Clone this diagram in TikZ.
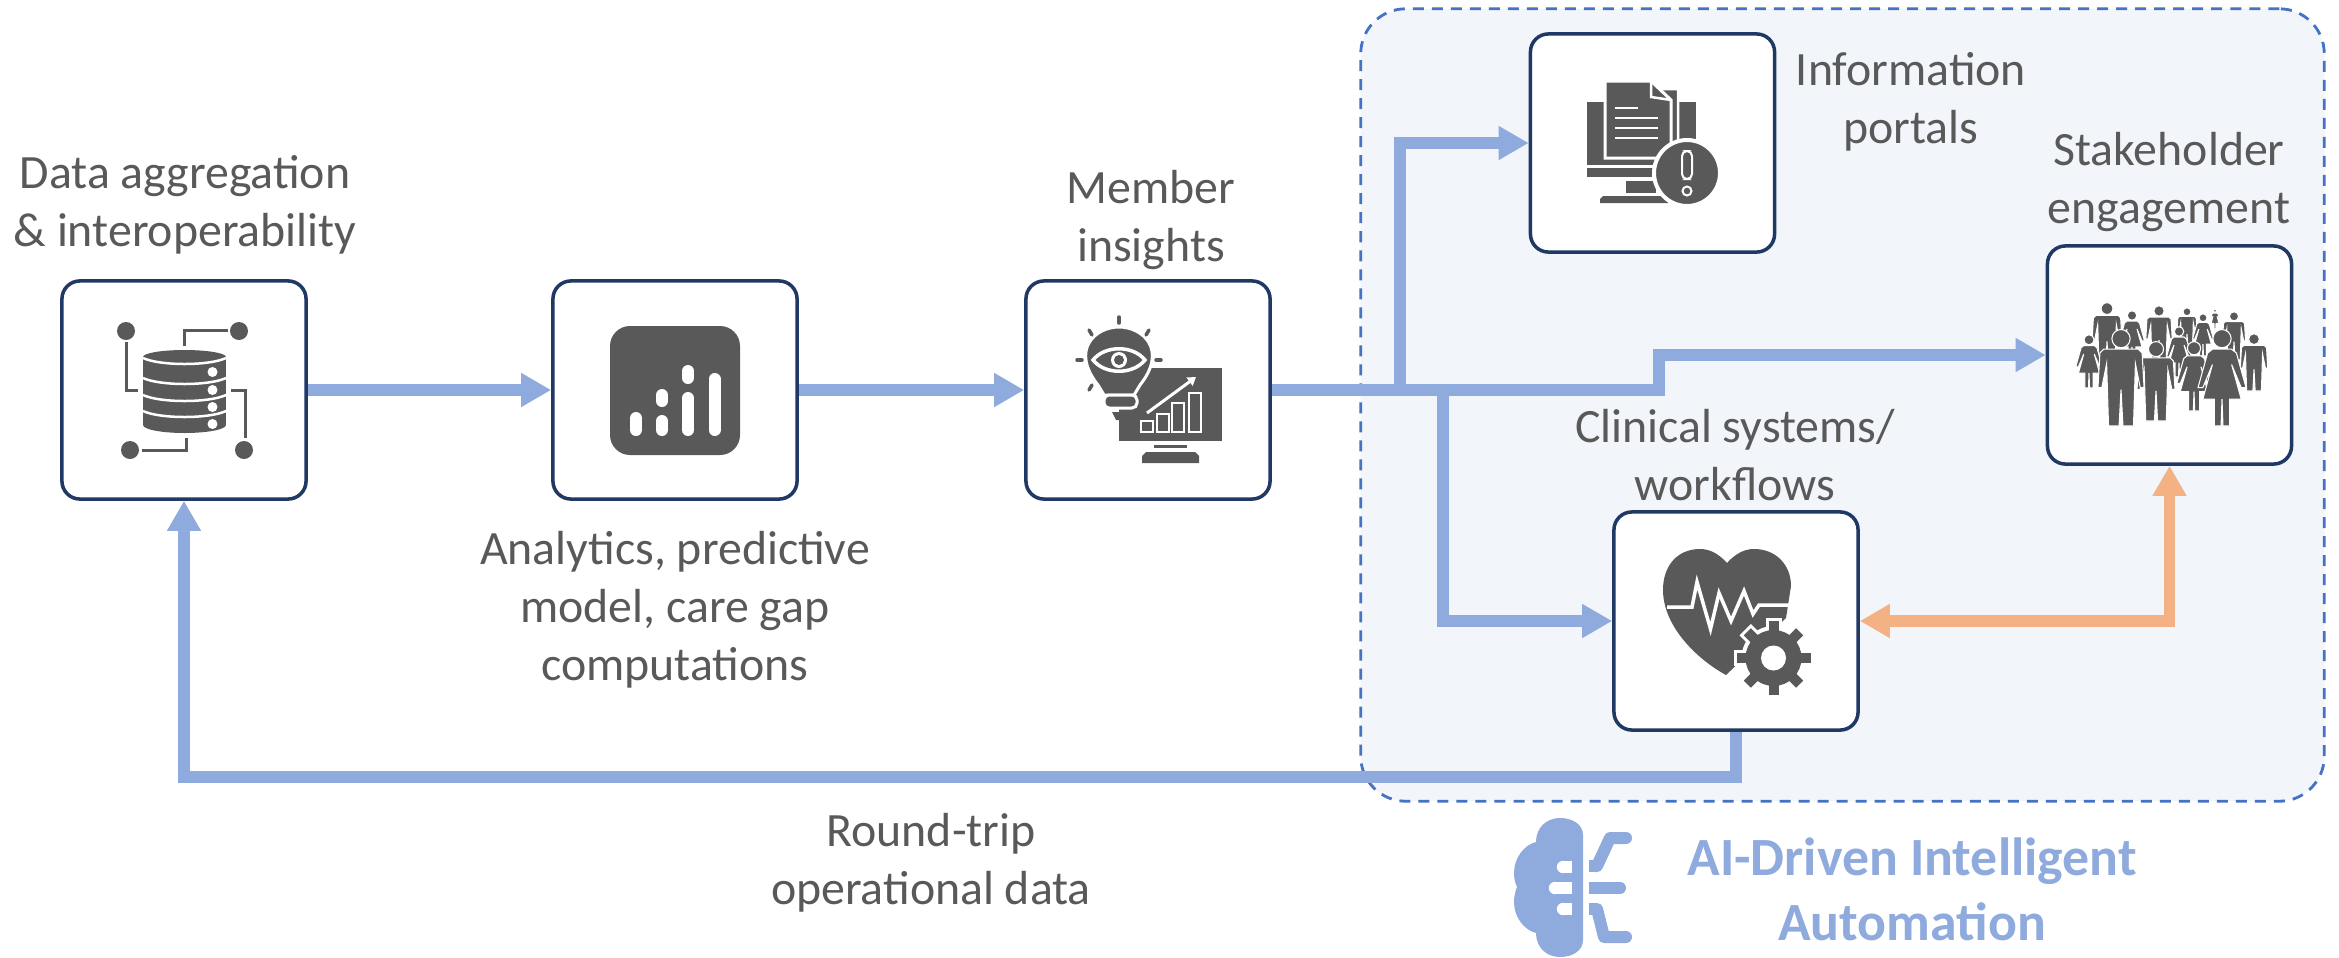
\documentclass[tikz,border=0pt]{standalone}
\usepackage{fontspec}
\setmainfont{Carlito}
\usetikzlibrary{arrows.meta}
\definecolor{ink}{HTML}{595959}
\definecolor{flowblue}{HTML}{8FAADC}
\definecolor{floworange}{HTML}{F4B183}
\definecolor{navy}{HTML}{1F3864}
\definecolor{dashblue}{HTML}{4472C4}
\definecolor{panel}{HTML}{F2F5FA}
\newcommand{\manicon}[3]{\begin{scope}[shift={(#1,#2)},scale=#3]
\fill[ink,draw=white,line width=.3pt] (0,9) circle (9.5);
\fill[ink,draw=white,line width=.3pt] (-18,20) -- (18,20) -- (22,24) -- (24,60) -- (20,60) -- (15,35) -- (13,100) -- (2,100) -- (0,62) -- (-2,100) -- (-13,100) -- (-15,35) -- (-20,60) -- (-24,60) -- (-22,24) -- cycle;
\end{scope}}
\newcommand{\womanicon}[3]{\begin{scope}[shift={(#1,#2)},scale=#3]
\fill[ink,draw=white,line width=.3pt] (0,9) circle (9.5);
\fill[ink,draw=white,line width=.3pt] (-10,20) -- (10,20) -- (15,24) -- (25,60) -- (20,60) -- (10,36) -- (20,72) -- (8,72) -- (8,100) -- (1,100) -- (0,72) -- (-1,100) -- (-8,100) -- (-8,72) -- (-20,72) -- (-10,36) -- (-20,60) -- (-25,60) -- (-15,24) -- cycle;
\end{scope}}
\begin{document}
\begin{tikzpicture}[x=0.01cm,y=-0.01cm]
\tikzstyle{box}=[draw=navy, fill=white, line width=1pt, rounded corners=.18cm,
                 minimum width=2.44cm, minimum height=2.18cm, inner sep=0pt]
\tikzstyle{caption}=[text=ink, align=center, inner sep=0pt,
                     font=\fontsize{13.6}{16.5}\selectfont]
\tikzstyle{flow}=[draw=flowblue, line width=.115cm, -{Triangle[length=.3cm,width=.32cm]}]
\tikzstyle{twoway}=[draw=floworange, line width=.115cm, {Triangle[length=.3cm,width=.32cm]}-{Triangle[length=.3cm,width=.32cm]}]
\tikzstyle{wire}=[draw=ink, line width=.03cm]
\tikzstyle{cut}=[draw=white, line width=.025cm]
\path[use as bounding box] (0,0) rectangle (2339,957);

\node (Auto) at (1842.5,405) [draw=dashblue, fill=panel, line width=.8pt, rounded corners=.45cm,
    dash pattern=on .11cm off .08cm, minimum width=9.63cm, minimum height=7.92cm] {};

\node[box] (Data) at (184,390) {};
\node[box] (Stats) at (675,390) {};
\node[box] (Member) at (1148,390) {};
\node[box] (Portal) at (1652.5,143) {};
\node[box] (Crowd) at (2169.5,355) {};
\node[box] (Clinic) at (1736,621) {};

\node[caption] (DataL) at (185,205) {Data aggregation\\\& interoperability};
\node[caption] (StatsL) at (675,610) {Analytics, predictive\\model, care gap\\computations};
\node[caption] (MemberL) at (1151,220) {Member\\insights};
\node[caption] (PortalL) at (1911,102) {Information\\portals};
\node[caption] (CrowdL) at (2169,182) {Stakeholder\\engagement};
\node[caption] (ClinicL) at (1735,455) {Clinical systems/\\workflows};
\node[caption] (TripL) at (931,863) {Round-trip\\operational data};
\node[caption, text=flowblue, font=\fontsize{15.3}{18.5}\selectfont\bfseries] (AutoL) at (1912,889) {AI-Driven Intelligent\\Automation};

\coordinate (PortalUp) at (1400,390);
\coordinate (ClinicDown) at (1443,390);
\coordinate (CrowdStep) at (1659,390);
\coordinate (TripA) at (1736,777);
\coordinate (TripB) at (184,777);
\draw[flow] (Data) -- (Stats);
\draw[flow] (Stats) -- (Member);
\draw[flow] (Member.east) -- (PortalUp) |- (Portal.west);
\draw[flow] (Member.east) -- (CrowdStep) |- (Crowd.west);
\draw[flow] (ClinicDown) |- (Clinic.west);
\draw[flow] (Clinic.south) -- (TripA) -- (TripB) -- (Data.south);
\draw[twoway] (Clinic.east) -| (Crowd.south);

\foreach \i/\j in {126/331,239/331,130/450,244/450}{\fill[ink] (\i,\j) circle (9);}
\draw[wire] (126,342) -- (126,390) -- (138,390);
\draw[wire] (184,346) -- (184,330) -- (228,330);
\draw[wire] (231,390) -- (245,390) -- (245,438);
\draw[wire] (186,438) -- (186,450) -- (142,450);
\fill[ink] (143,357) rectangle (226,425);
\fill[ink] (184.5,357) ellipse (41.5 and 7);
\fill[ink] (184.5,425) ellipse (41.5 and 8);
\foreach \j in {358,378,395,411}{\draw[cut] (143,\j) .. controls (160,\j+8) and (209,\j+8) .. (226,\j);}
\foreach \j in {372,390,407,424}{\fill[white] (212.5,\j) circle (5);}

\fill[ink, rounded corners=.2cm] (610,326) rectangle (740,455);
\foreach \i/\a/\b in {636/418/430,662/395/401,662/421/430,688/371/378,688/398/430,714.5/379/430}{
  \draw[white, line width=.12cm, line cap=round] (\i,\a) -- (\i,\b);}

\fill[ink] (1119,368) rectangle (1222,441);
\foreach \i/\j in {1141/421,1157/414,1172/403,1189/393}{\draw[cut] (\i,\j) rectangle ++(12,432-\j);}
\draw[white, line width=.03cm, -{Triangle[length=.08cm,width=.1cm]}] (1147,413) -- (1196,377);
\fill[ink] (1154,445) rectangle (1187,448);
\fill[ink] (1142,463) -- (1142,456) -- (1146,452) -- (1195,452) -- (1199,456) -- (1199,463) -- cycle;
\fill[ink, draw=white, line width=.03cm] (1104,395) -- (1098,385) .. controls (1070,350) and (1095,327) .. (1119,327) .. controls (1143,327) and (1168,350) .. (1140,385) -- (1134,395) -- cycle;
\fill[ink, draw=white, line width=.03cm, rounded corners=.05cm] (1104,395) rectangle (1137,408);
\fill[ink] (1112,412) -- (1127,412) -- (1123,420) -- (1116,420) -- cycle;
\filldraw[fill=ink, draw=white, line width=.035cm] (1093,360) .. controls (1105,345) and (1133,345) .. (1145,360) .. controls (1133,375) and (1105,375) .. (1093,360) -- cycle;
\fill[white] (1119,360) circle (8);
\fill[ink] (1119,360) circle (5);
\foreach \i/\j/\k/\l in {1119/317/1119/323,1089/330/1092/335,1149/330/1146/335,1077/360/1082/360,1156/360/1161/360,1089/390/1092/385}{
  \draw[ink, line width=.035cm, line cap=round] (\i,\j) -- (\k,\l);}

\fill[ink] (1587,102) rectangle (1696,165);
\fill[ink] (1587,168) rectangle (1696,177);
\fill[ink] (1626,181) rectangle (1656,193);
\fill[ink] (1600,203) -- (1600,199) -- (1603,196) -- (1668,196) -- (1668,203) -- cycle;
\filldraw[fill=ink, draw=white, line width=.025cm] (1660,89) -- (1678,89) -- (1678,150) -- (1665,150) -- cycle;
\filldraw[fill=ink, draw=white, line width=.03cm] (1605,81) -- (1651,81) -- (1671,100) -- (1671,158) -- (1605,158) -- cycle;
\draw[cut] (1651,81) -- (1651,97) -- (1671,100);
\foreach \j/\k in {108/1638,118/1658,128/1658,138/1658}{\draw[white, line width=.025cm] (1615,\j) -- (\k,\j);}
\filldraw[fill=ink, draw=white, line width=.04cm] (1687,173) circle (33);
\draw[white, line width=.02cm, rounded corners=.05cm] (1682,151) rectangle (1692,179);
\draw[white, line width=.02cm] (1687,191) circle (4.5);

\foreach \i/\j/\s in {2107/303/.62,2159/306/.55,2187/308/.42,2234/312/.48}{\manicon{\i}{\j}{\s}}
\foreach \i/\j/\s in {2132/311/.5,2203/314/.42,2215/309/.2,2179/327/.5}{\womanicon{\i}{\j}{\s}}
\womanicon{2089}{335}{.53}
\manicon{2254}{334}{.57}
\womanicon{2194}{342}{.69}
\manicon{2156}{342}{.79}
\manicon{2121}{330}{.96}
\womanicon{2222}{330}{.96}

\fill[ink] (1727,563) .. controls (1718,553) and (1709,549) .. (1700,549) .. controls (1678,549) and (1663,565) .. (1663,590) .. controls (1663,625) and (1695,658) .. (1726,675) -- (1786,618) -- (1791,586) .. controls (1791,565) and (1776,549) .. (1754,549) .. controls (1745,549) and (1736,553) .. (1727,563) -- cycle;
\draw[white, line width=.035cm] (1667,607) -- (1692,607) -- (1697,582) -- (1710.5,629) -- (1719,593) -- (1731,621) -- (1744,591) -- (1753,614) -- (1759,605) -- (1789,605);
\fill[white] (1773.5,658) circle (32);
\foreach \a in {0,45,...,315}{\draw[white, line width=.16cm] (1773.5,658) -- ++(\a:40);}
\foreach \a in {0,45,...,315}{\draw[ink, line width=.1cm] (1773.5,658) -- ++(\a:37);}
\fill[ink] (1773.5,658) circle (28);
\fill[white] (1773.5,658) circle (12.5);

\fill[flowblue] (1583,835) .. controls (1583,824) and (1572,818) .. (1560,818) .. controls (1546,818) and (1536,828) .. (1536,842) .. controls (1524,845) and (1514,858) .. (1514,873) .. controls (1514,878) and (1515,883) .. (1517,887) .. controls (1515,892) and (1514,897) .. (1514,902) .. controls (1514,917) and (1524,930) .. (1536,933) .. controls (1536,947) and (1546,957) .. (1560,957) .. controls (1572,957) and (1583,951) .. (1583,940) -- cycle;
\foreach \i/\j in {1563/867,1555/888,1563/909}{
  \fill[white] (\i,\j) circle (6.2);
  \fill[white] (\i,\j-6.2) rectangle (1571.5,\j+6.2);}
\draw[flowblue, line width=.12cm, line cap=round, line join=round] (1595,866) -- (1597,866) -- (1610,838) -- (1626,838);
\draw[flowblue, line width=.12cm, line cap=round] (1595,888) -- (1620,888);
\draw[flowblue, line width=.12cm, line cap=round, line join=round] (1595,909) -- (1597,909) -- (1604,937) -- (1626,937);
\fill[flowblue] (1589,860) rectangle (1596,872);
\fill[flowblue] (1589,882) rectangle (1596,894);
\fill[flowblue] (1589,903) rectangle (1596,915);
\end{tikzpicture}
\end{document}
